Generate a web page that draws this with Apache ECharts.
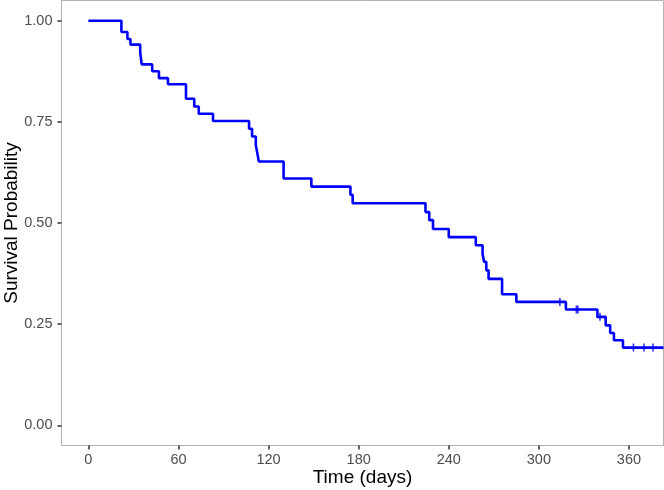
<!DOCTYPE html>
<html>
<head>
<meta charset="utf-8">
<script src="https://cdn.jsdelivr.net/npm/echarts@6.0.0/dist/echarts.min.js"></script>
<style>
  html, body { margin: 0; padding: 0; background: #ffffff; }
  #chart { width: 664px; height: 490px; }
</style>
</head>
<body>
<div id="chart"></div>
<script>
// Kaplan-Meier step curve: time of each drop and survival right after it
const eventTimes = [0, 22, 26, 28, 34.5, 35.5, 42.5, 47, 53, 65, 70.5, 73.5, 83,
  107, 109, 111.5, 112.5, 113.5, 130, 148.5, 174.5, 176, 224.5, 227, 229.5, 240,
  258, 262.5, 263.5, 265, 266.5, 275.5, 285, 318, 339, 344.5, 347.5, 350, 356, 383];
const survival = [1.000, 0.972, 0.955, 0.941, 0.922, 0.892, 0.875, 0.858, 0.843, 0.807, 0.788, 0.770, 0.752,
  0.733, 0.714, 0.692, 0.673, 0.652, 0.610, 0.590, 0.570, 0.549, 0.527, 0.507, 0.485, 0.465,
  0.445, 0.424, 0.404, 0.383, 0.362, 0.324, 0.305, 0.286, 0.268, 0.247, 0.228, 0.210, 0.192, 0.192];

// censored observations
const censorTimes = [314, 325, 326, 340.7, 363, 370, 376];
const censorSurv = [0.305, 0.286, 0.286, 0.268, 0.192, 0.192, 0.192];

const xTicks = [0, 60, 120, 180, 240, 300, 360];
const yTicks = [0, 0.25, 0.5, 0.75, 1];

const FONT = "'Liberation Sans', Arial, sans-serif";
const plusPath = 'path://M-1,-5h2v4h4v2h-4v4h-2v-4h-4v-2h4z';

const chart = echarts.init(document.getElementById('chart'), null, { renderer: 'canvas' });

chart.setOption({
  animation: false,
  backgroundColor: '#ffffff',
  grid: {
    left: 61.5, right: 0.5, top: 0.5, bottom: 44.5,
    outerBoundsMode: 'none',
    containLabel: false,
    show: true, borderColor: '#b3b3b3', borderWidth: 1, backgroundColor: 'transparent',
  },
  xAxis: {
    type: 'value',
    min: -17.9,
    max: 383,
    name: 'Time (days)',
    nameLocation: 'middle',
    nameGap: 23,
    nameMoveOverlap: false,
    nameTextStyle: { color: '#000000', fontSize: 19, fontFamily: FONT },
    axisLine: { show: true, onZero: false, lineStyle: { color: '#b3b3b3', width: 1 } },
    axisTick: { show: true, length: 4, customValues: xTicks, lineStyle: { color: '#333333', width: 1.5 } },
    axisLabel: { customValues: xTicks, color: '#4d4d4d', fontSize: 14.5, fontFamily: FONT, margin: 7 },
    splitLine: { show: false },
  },
  yAxis: {
    type: 'value',
    min: -0.05,
    max: 1.05,
    name: 'Survival Probability',
    nameLocation: 'middle',
    nameGap: 40,
    nameMoveOverlap: false,
    nameTextStyle: { color: '#000000', fontSize: 19, fontFamily: FONT },
    axisLine: { show: true, onZero: false, lineStyle: { color: '#b3b3b3', width: 1 } },
    axisTick: { show: true, length: 4, customValues: yTicks, lineStyle: { color: '#333333', width: 1.5 } },
    axisLabel: {
      customValues: yTicks, color: '#4d4d4d', fontSize: 14.5, fontFamily: FONT, margin: 9,
      formatter: (v) => v.toFixed(2),
    },
    splitLine: { show: false },
  },
  series: [
    {
      type: 'line',
      step: 'end',
      data: eventTimes.map((t, i) => [t, survival[i]]),
      showSymbol: false,
      lineStyle: { color: '#0000ff', width: 2.6 },
      clip: true,
    },
    {
      type: 'scatter',
      data: censorTimes.map((t, i) => [t, censorSurv[i]]),
      symbol: plusPath,
      symbolSize: 8,
      itemStyle: { color: '#0000ff' },
    },
  ],
});
</script>
</body>
</html>
